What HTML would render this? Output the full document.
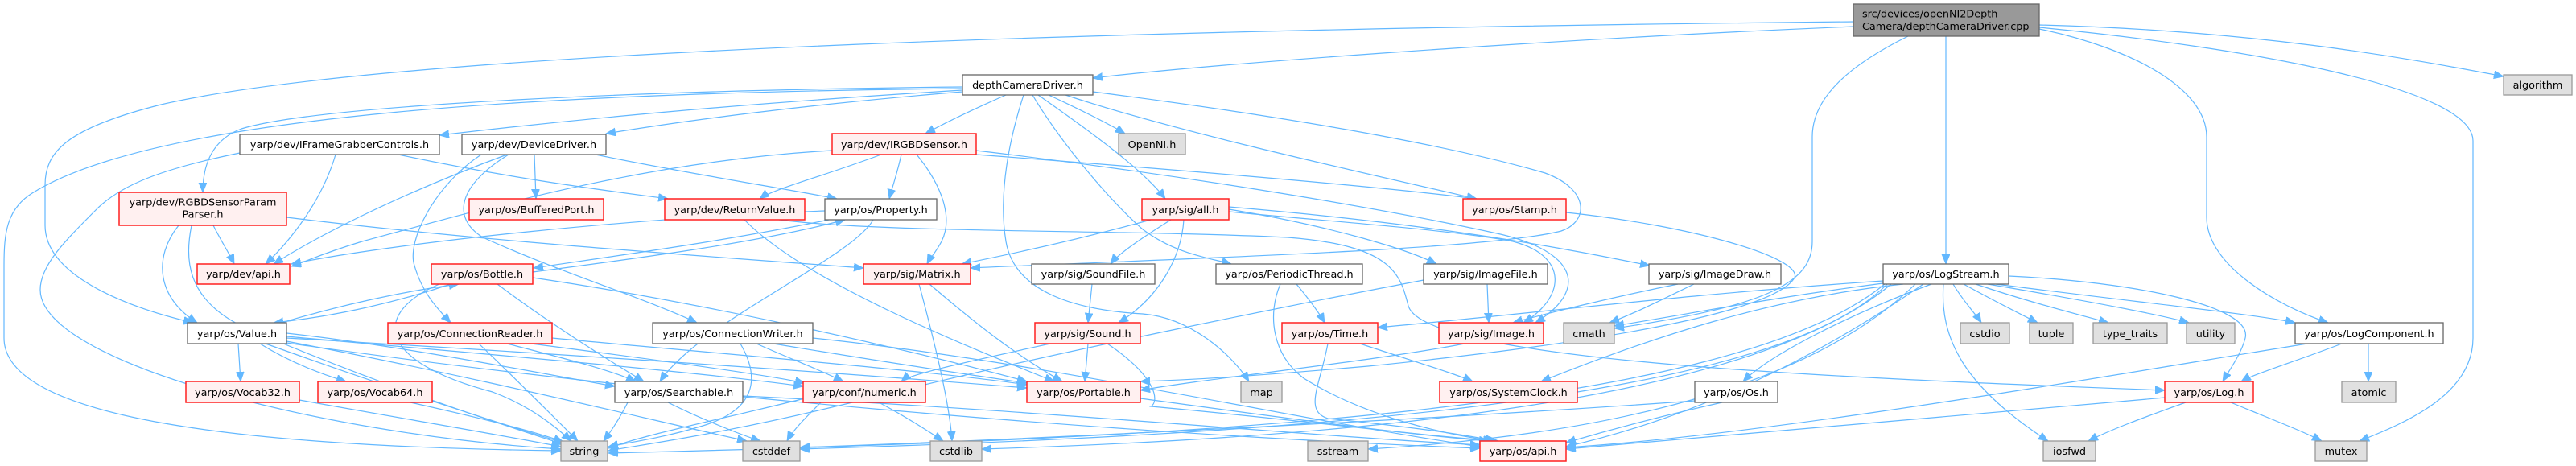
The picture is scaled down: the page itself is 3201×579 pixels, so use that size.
<!DOCTYPE html>
<html><head><meta charset="utf-8"><style>
html,body{margin:0;padding:0;background:#fff;}
svg{display:block;}
text{font-family:"DejaVu Sans","Liberation Sans",sans-serif;font-size:12.8px;fill:#000;}
.e{fill:none;stroke:#63b8ff;stroke-width:1.2;marker-end:url(#ah);}
.w{fill:#fff;stroke:#666;stroke-width:1.3;}
.r{fill:#fff0f0;stroke:#ff2020;stroke-width:1.5;}
.g{fill:#e0e0e0;stroke:#999;stroke-width:1.3;}
.t{fill:#999;stroke:#666;stroke-width:1.3;}
</style></head><body>
<svg width="3201" height="579" viewBox="0 0 3201 579" xmlns="http://www.w3.org/2000/svg">
<defs>
<marker id="ah" markerUnits="userSpaceOnUse" markerWidth="13" markerHeight="11" refX="12" refY="5" orient="auto">
<path d="M0,0 L12,5 L0,10 z" fill="#63b8ff" stroke="#63b8ff" stroke-width="0.8"/>
</marker>
</defs>
<g>
<!-- A edges -->
<path class="e" d="M2303,33 C1900,50 1500,80 1358,97"/>
<path class="e" d="M2303,27 C1500,35 500,60 200,130 C80,160 56,190 56,230 L56,280 C56,340 150,380 240,401"/>
<path class="e" d="M2534,31 C2800,38 2980,70 3111,95"/>
<path class="e" d="M2418,45 L2418,328"/>
<path class="e" d="M2534,36 C2650,60 2742,110 2742,170 L2742,270 C2742,330 2830,380 2893,401"/>
<path class="e" d="M2534,34 C2800,60 3073,110 3073,175 L3073,420 C3073,490 2990,525 2932,548"/>
<path class="e" d="M2371,45 C2300,80 2252,120 2252,170 L2252,300 C2252,350 2200,380 2006,408"/>
<!-- B edges -->
<path class="e" d="M1196,112 C900,130 700,150 546,168"/>
<path class="e" d="M1196,114 C1000,130 850,150 753,166"/>
<path class="e" d="M1196,108 C800,112 400,130 300,160 C260,175 252,210 252,239"/>
<path class="e" d="M1196,110 C700,115 200,140 40,240 C8,260 5,290 5,330 L5,420 C5,520 300,555 697,560"/>
<path class="e" d="M1250,118 C1200,140 1170,155 1150,166"/>
<path class="e" d="M1303,118 C1340,135 1380,155 1398,166"/>
<path class="e" d="M1290,118 C1350,160 1420,210 1448,247"/>
<path class="e" d="M1272,118 C1255,170 1240,240 1250,300 C1260,360 1330,385 1420,390 C1480,395 1530,440 1552,474"/>
<path class="e" d="M1283,118 C1320,180 1380,250 1420,285 C1460,315 1500,320 1530,328"/>
<path class="e" d="M1324,118 C1450,160 1650,205 1835,247"/>
<path class="e" d="M1358,114 C1600,145 1800,180 1920,215 C1975,235 1975,275 1940,287 C1850,310 1500,320 1206,333"/>
<!-- IRGBD edges -->
<path class="e" d="M1213,187 C1450,215 1700,255 1860,290 C1960,312 1975,360 1908,401"/>
<path class="e" d="M1095,192 C1020,220 960,235 944,247"/>
<path class="e" d="M1120,192 C1115,215 1108,235 1105,247"/>
<path class="e" d="M1139,192 C1170,230 1185,270 1170,300 C1162,315 1156,320 1152,328"/>
<path class="e" d="M1034,187 C800,200 600,260 450,300 C400,315 380,325 362,331"/>
<path class="e" d="M1213,192 C1450,210 1700,230 1835,247"/>
<!-- all.h -->
<path class="e" d="M1527,263 C1650,275 1800,285 1880,300 C1950,318 1945,370 1893,401"/>
<path class="e" d="M1430,273 C1350,295 1260,315 1195,328"/>
<path class="e" d="M1455,273 C1420,295 1390,315 1380,328"/>
<path class="e" d="M1471,273 C1468,320 1440,370 1390,401"/>
<path class="e" d="M1527,260 C1650,280 1750,310 1785,328"/>
<path class="e" d="M1527,257 C1800,280 1950,310 2050,330"/>
<!-- Property / Bottle -->
<path class="e" d="M1030,273 C900,300 750,320 663,333"/>
<path class="e" d="M662,338 C800,320 950,300 1050,273"/>
<path class="e" d="M1085,273 C1060,320 870,400 820,474"/>
<path class="e" d="M1025,262 C800,270 500,300 362,328"/>
<path class="e" d="M560,353 C480,380 400,395 340,401"/>
<path class="e" d="M350,401 C420,380 500,362 570,353"/>
<path class="e" d="M618,353 C680,400 760,450 800,474"/>
<path class="e" d="M662,345 C900,380 1150,440 1276,474"/>
<path class="e" d="M546,353 C460,390 470,450 612,487 C660,505 690,530 710,548"/>
<!-- Value -->
<path class="e" d="M296,427 L299,474"/>
<path class="e" d="M323,427 C360,450 400,465 430,474"/>
<path class="e" d="M330,427 C450,470 600,520 700,550"/>
<path class="e" d="M356,414 C500,430 650,460 764,480"/>
<path class="e" d="M356,418 C600,440 850,460 998,480"/>
<path class="e" d="M356,420 C700,440 1000,460 1276,482"/>
<path class="e" d="M356,424 C600,470 800,520 928,548"/>
<path class="e" d="M356,426 C800,490 1400,540 1839,557"/>
<path class="e" d="M372,497 C500,520 620,540 697,555"/>
<path class="e" d="M510,500 C600,520 660,535 700,549"/>
<!-- RGBDP -->
<path class="e" d="M265,280 C275,300 285,315 291,328"/>
<path class="e" d="M222,280 C190,320 195,370 245,401"/>
<path class="e" d="M238,280 C230,320 230,370 300,405 C450,470 600,520 700,552"/>
<path class="e" d="M356,270 C600,300 900,320 1073,333"/>
<!-- IFG -->
<path class="e" d="M417,192 C400,250 360,300 330,328"/>
<path class="e" d="M298,190 C200,210 150,230 120,260 C80,300 50,330 50,360 C50,450 400,540 697,558"/>
<path class="e" d="M495,192 C650,225 780,240 830,247"/>
<!-- DD -->
<path class="e" d="M630,192 C500,240 400,290 340,328"/>
<path class="e" d="M664,192 L666,247"/>
<path class="e" d="M740,192 C850,215 980,235 1040,247"/>
<path class="e" d="M598,192 C540,230 505,300 515,330 C525,365 545,385 560,401"/>
<path class="e" d="M632,192 C570,230 560,270 600,295 C700,340 800,370 866,401"/>
<!-- RV -->
<path class="e" d="M925,273 C1000,350 1200,430 1310,474"/>
<path class="e" d="M968,273 C1100,290 1400,285 1600,295 C1730,305 1740,340 1750,380 C1770,450 2300,470 2690,485"/>
<!-- CR / CW -->
<path class="e" d="M595,427 C640,470 690,520 718,548"/>
<path class="e" d="M630,427 C700,445 760,460 790,474"/>
<path class="e" d="M660,427 C800,445 950,465 1000,476"/>
<path class="e" d="M686,420 C900,440 1150,460 1276,478"/>
<path class="e" d="M920,427 C945,470 940,510 870,530 C820,545 780,550 756,555"/>
<path class="e" d="M940,427 C980,445 1020,460 1048,474"/>
<path class="e" d="M961,427 C1100,450 1200,465 1276,476"/>
<path class="e" d="M1010,420 C1300,450 1600,520 1839,555"/>
<!-- Searchable / numeric / Portable / Matrix -->
<path class="e" d="M780,500 C770,520 760,535 750,548"/>
<path class="e" d="M830,500 C870,520 920,540 945,548"/>
<path class="e" d="M923,492 C1300,510 1600,540 1839,553"/>
<path class="e" d="M1020,500 C1000,520 985,535 978,548"/>
<path class="e" d="M1092,500 C1130,520 1160,540 1172,548"/>
<path class="e" d="M1000,495 C900,520 800,540 756,557"/>
<path class="e" d="M1417,495 C1600,520 1750,540 1850,548"/>
<path class="e" d="M1155,353 C1210,400 1260,440 1320,474"/>
<path class="e" d="M1142,353 C1160,420 1180,500 1183,548"/>
<!-- Sound -->
<path class="e" d="M1352,427 L1348,474"/>
<path class="e" d="M1305,427 C1200,450 1130,465 1120,474"/>
<path class="e" d="M1376,427 C1440,470 1440,500 1430,505 C1600,520 1750,540 1862,548"/>
<path class="e" d="M1357,353 L1352,401"/>
<!-- PT / Time -->
<path class="e" d="M1611,353 C1625,370 1640,390 1646,401"/>
<path class="e" d="M1591,353 C1575,390 1580,440 1620,470 C1700,520 1800,540 1855,548"/>
<path class="e" d="M1690,427 C1760,450 1810,465 1830,474"/>
<path class="e" d="M1650,427 C1640,480 1620,510 1650,520 C1750,530 1820,540 1858,548"/>
<!-- Image family -->
<path class="e" d="M1848,353 L1850,401"/>
<path class="e" d="M1769,348 C1600,380 1300,440 1100,490 C900,540 800,552 756,560"/>
<path class="e" d="M2085,353 C2000,370 1920,390 1880,401"/>
<path class="e" d="M2105,353 C2070,370 2030,390 2000,401"/>
<path class="e" d="M1820,427 C1700,450 1500,470 1417,485"/>
<path class="e" d="M1946,264 C2100,280 2240,320 2230,345 C2210,380 2050,420 1700,455 C1550,468 1480,472 1417,474"/>
<!-- LogStream -->
<path class="e" d="M2427,353 C2440,375 2455,390 2462,401"/>
<path class="e" d="M2440,353 C2480,375 2510,390 2532,401"/>
<path class="e" d="M2455,353 C2520,375 2580,390 2620,401"/>
<path class="e" d="M2470,353 C2600,375 2680,390 2720,401"/>
<path class="e" d="M2480,353 C2650,375 2800,390 2852,401"/>
<path class="e" d="M2496,343 C2650,350 2800,380 2790,420 C2785,440 2770,460 2762,474"/>
<path class="e" d="M2415,353 C2410,420 2440,480 2545,548"/>
<path class="e" d="M2390,353 C2250,450 2100,520 1946,555"/>
<path class="e" d="M2400,353 C2300,390 2200,440 2166,474"/>
<path class="e" d="M2365,353 C2200,370 2050,420 1915,474"/>
<path class="e" d="M2340,349 C2100,365 1900,390 1712,407"/>
<path class="e" d="M2340,352 C2200,370 2100,390 2006,405"/>
<path class="e" d="M2380,353 C2250,480 2000,540 1700,558"/>
<path class="e" d="M2350,353 C2200,480 1800,540 1220,558"/>
<path class="e" d="M2345,353 C2200,500 1600,540 994,558"/>
<path class="e" d="M2342,353 C2150,510 1500,545 756,563"/>
<!-- Os / LogComponent / Log -->
<path class="e" d="M2140,500 C2050,520 1980,540 1946,550"/>
<path class="e" d="M2106,498 C1800,520 1300,545 994,556"/>
<path class="e" d="M2910,427 C2850,450 2800,465 2785,474"/>
<path class="e" d="M2943,427 L2943,474"/>
<path class="e" d="M2867,427 C2600,470 2200,540 1946,556"/>
<path class="e" d="M2716,500 C2660,520 2620,535 2595,548"/>
<path class="e" d="M2772,500 C2820,520 2860,535 2885,548"/>
<path class="e" d="M2690,494 C2400,520 2100,545 1946,558"/>
</g>
<g>
<!-- nodes -->
<rect class="t" x="2303" y="5" width="231" height="40"/>
<text x="2314" y="21.5">src/devices/openNI2Depth</text>
<text x="2314" y="37">Camera/depthCameraDriver.cpp</text>

<rect class="w" x="1196" y="93" width="162" height="25"/><text x="1277" y="110" text-anchor="middle">depthCameraDriver.h</text>
<rect class="g" x="3111" y="93" width="85" height="25"/><text x="3153.5" y="110" text-anchor="middle">algorithm</text>

<rect class="w" x="298" y="167" width="248" height="25"/><text x="422" y="184" text-anchor="middle">yarp/dev/IFrameGrabberControls.h</text>
<rect class="w" x="574" y="167" width="179" height="25"/><text x="663.5" y="184" text-anchor="middle">yarp/dev/DeviceDriver.h</text>
<rect class="r" x="1034" y="166" width="179" height="26"/><text x="1123.5" y="184" text-anchor="middle">yarp/dev/IRGBDSensor.h</text>
<rect class="g" x="1390" y="166" width="83" height="26"/><text x="1431.5" y="184" text-anchor="middle">OpenNI.h</text>

<rect class="r" x="148" y="239" width="208" height="41"/>
<text x="252" y="255.5" text-anchor="middle">yarp/dev/RGBDSensorParam</text>
<text x="252" y="270.5" text-anchor="middle">Parser.h</text>
<rect class="r" x="583" y="247" width="167" height="26"/><text x="666.5" y="265" text-anchor="middle">yarp/os/BufferedPort.h</text>
<rect class="r" x="826" y="247" width="174" height="26"/><text x="913" y="265" text-anchor="middle">yarp/dev/ReturnValue.h</text>
<rect class="w" x="1025" y="247" width="139" height="26"/><text x="1094.5" y="265" text-anchor="middle">yarp/os/Property.h</text>
<rect class="r" x="1419" y="247" width="108" height="26"/><text x="1473" y="265" text-anchor="middle">yarp/sig/all.h</text>
<rect class="r" x="1818" y="247" width="128" height="26"/><text x="1882" y="265" text-anchor="middle">yarp/os/Stamp.h</text>

<rect class="r" x="245" y="328" width="115" height="25"/><text x="302.5" y="345" text-anchor="middle">yarp/dev/api.h</text>
<rect class="r" x="536" y="328" width="126" height="25"/><text x="599" y="345" text-anchor="middle">yarp/os/Bottle.h</text>
<rect class="r" x="1073" y="328" width="133" height="25"/><text x="1139.5" y="345" text-anchor="middle">yarp/sig/Matrix.h</text>
<rect class="w" x="1282" y="328" width="153" height="25"/><text x="1358.5" y="345" text-anchor="middle">yarp/sig/SoundFile.h</text>
<rect class="w" x="1511" y="328" width="182" height="25"/><text x="1602" y="345" text-anchor="middle">yarp/os/PeriodicThread.h</text>
<rect class="w" x="1769" y="328" width="154" height="25"/><text x="1846" y="345" text-anchor="middle">yarp/sig/ImageFile.h</text>
<rect class="w" x="2049" y="328" width="164" height="25"/><text x="2131" y="345" text-anchor="middle">yarp/sig/ImageDraw.h</text>
<rect class="w" x="2340" y="328" width="156" height="25"/><text x="2418" y="345" text-anchor="middle">yarp/os/LogStream.h</text>

<rect class="w" x="233" y="401" width="123" height="26"/><text x="294.5" y="419" text-anchor="middle">yarp/os/Value.h</text>
<rect class="r" x="482" y="401" width="204" height="26"/><text x="584" y="419" text-anchor="middle">yarp/os/ConnectionReader.h</text>
<rect class="w" x="811" y="401" width="199" height="26"/><text x="910.5" y="419" text-anchor="middle">yarp/os/ConnectionWriter.h</text>
<rect class="r" x="1286" y="401" width="131" height="26"/><text x="1351.5" y="419" text-anchor="middle">yarp/sig/Sound.h</text>
<rect class="r" x="1593" y="401" width="119" height="26"/><text x="1652.5" y="419" text-anchor="middle">yarp/os/Time.h</text>
<rect class="r" x="1788" y="401" width="130" height="26"/><text x="1853" y="419" text-anchor="middle">yarp/sig/Image.h</text>
<rect class="g" x="1943" y="401" width="63" height="26"/><text x="1974.5" y="419" text-anchor="middle">cmath</text>
<rect class="g" x="2436" y="401" width="61" height="26"/><text x="2466.5" y="419" text-anchor="middle">cstdio</text>
<rect class="g" x="2522" y="401" width="54" height="26"/><text x="2549" y="419" text-anchor="middle">tuple</text>
<rect class="g" x="2601" y="401" width="92" height="26"/><text x="2647" y="419" text-anchor="middle">type_traits</text>
<rect class="g" x="2717" y="401" width="60" height="26"/><text x="2747" y="419" text-anchor="middle">utility</text>
<rect class="w" x="2852" y="401" width="184" height="26"/><text x="2944" y="419" text-anchor="middle">yarp/os/LogComponent.h</text>

<rect class="r" x="231" y="474" width="141" height="26"/><text x="301.5" y="492" text-anchor="middle">yarp/os/Vocab32.h</text>
<rect class="r" x="395" y="474" width="142" height="26"/><text x="466" y="492" text-anchor="middle">yarp/os/Vocab64.h</text>
<rect class="w" x="764" y="474" width="159" height="26"/><text x="843.5" y="492" text-anchor="middle">yarp/os/Searchable.h</text>
<rect class="r" x="998" y="474" width="152" height="26"/><text x="1074" y="492" text-anchor="middle">yarp/conf/numeric.h</text>
<rect class="r" x="1276" y="474" width="141" height="26"/><text x="1346.5" y="492" text-anchor="middle">yarp/os/Portable.h</text>
<rect class="g" x="1542" y="474" width="51" height="26"/><text x="1567.5" y="492" text-anchor="middle">map</text>
<rect class="r" x="1789" y="474" width="171" height="26"/><text x="1874.5" y="492" text-anchor="middle">yarp/os/SystemClock.h</text>
<rect class="w" x="2106" y="474" width="103" height="26"/><text x="2157.5" y="492" text-anchor="middle">yarp/os/Os.h</text>
<rect class="r" x="2690" y="474" width="110" height="26"/><text x="2745" y="492" text-anchor="middle">yarp/os/Log.h</text>
<rect class="g" x="2910" y="474" width="67" height="26"/><text x="2943.5" y="492" text-anchor="middle">atomic</text>

<rect class="g" x="697" y="548" width="58" height="25"/><text x="726" y="565" text-anchor="middle">string</text>
<rect class="g" x="923" y="548" width="71" height="25"/><text x="958.5" y="565" text-anchor="middle">cstddef</text>
<rect class="g" x="1156" y="548" width="64" height="25"/><text x="1188" y="565" text-anchor="middle">cstdlib</text>
<rect class="g" x="1625" y="548" width="75" height="25"/><text x="1662.5" y="565" text-anchor="middle">sstream</text>
<rect class="r" x="1839" y="548" width="107" height="25"/><text x="1892.5" y="565" text-anchor="middle">yarp/os/api.h</text>
<rect class="g" x="2539" y="548" width="65" height="25"/><text x="2571.5" y="565" text-anchor="middle">iosfwd</text>
<rect class="g" x="2877" y="548" width="64" height="25"/><text x="2909" y="565" text-anchor="middle">mutex</text>
</g>
</svg>
</body></html>
